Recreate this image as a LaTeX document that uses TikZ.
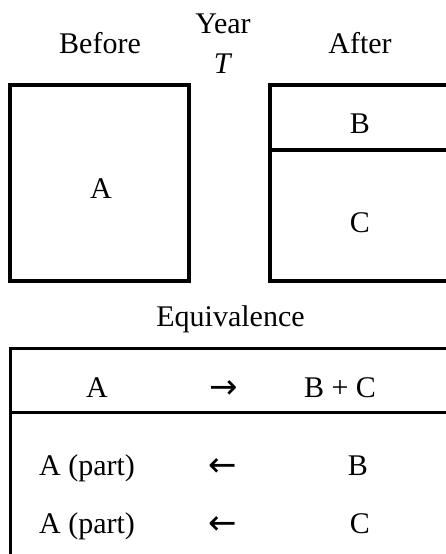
\documentclass[tikz,border=0pt]{standalone}
\usepackage{fontspec}
\setmainfont{Liberation Serif}
\newfontfamily\arrowfont{DejaVu Sans}
\begin{document}
\begin{tikzpicture}[x=1pt,y=-1pt,
  lbl/.style={anchor=base,inner sep=0pt,font=\fontsize{30}{34}\selectfont},
  arr/.style={anchor=center,inner sep=0pt,font=\arrowfont\fontsize{34}{38}\selectfont},
  boxline/.style={line width=4pt,line cap=rect},
  tabline/.style={line width=3.3pt}]
\useasboundingbox (0,0) rectangle (445,554);
% labels on top
\node[lbl] (before) at (100,53) {Before};
\node[lbl] (year) at (223,33) {Year};
\node[lbl] (T) at (223,73) {\textit{T}};
\node[lbl] (after) at (360,53) {After};
% left box
\draw[boxline] (10,84.5) rectangle (188.5,281);
\node[lbl] (A) at (101,198) {A};
% right box
\draw[boxline] (460,84.5) -- (269.5,84.5) -- (269.5,281) -- (460,281);
\draw[line width=4pt] (269.5,150) -- (460,150);
\node[lbl] (B) at (360,133) {B};
\node[lbl] (C) at (360,232) {C};
% equivalence
\node[lbl] (eq) at (230.5,326) {Equivalence};
\draw[tabline] (460,348.3) -- (10.7,348.3) -- (10.7,570);
\draw[tabline] (10.7,412.7) -- (460,412.7);
\node[lbl] (r1a) at (97,397) {A};
\node[arr] (r1ar) at (223.5,389.5) {→};
\node[lbl] (r1b) at (340,397) {B + C};
\node[lbl] (r2a) at (87,475) {A (part)};
\node[arr] (r2ar) at (223,468) {←};
\node[lbl] (r2b) at (358,475) {B};
\node[lbl] (r3a) at (87,533) {A (part)};
\node[arr] (r3ar) at (223,526) {←};
\node[lbl] (r3c) at (360,533) {C};
\end{tikzpicture}
\end{document}
